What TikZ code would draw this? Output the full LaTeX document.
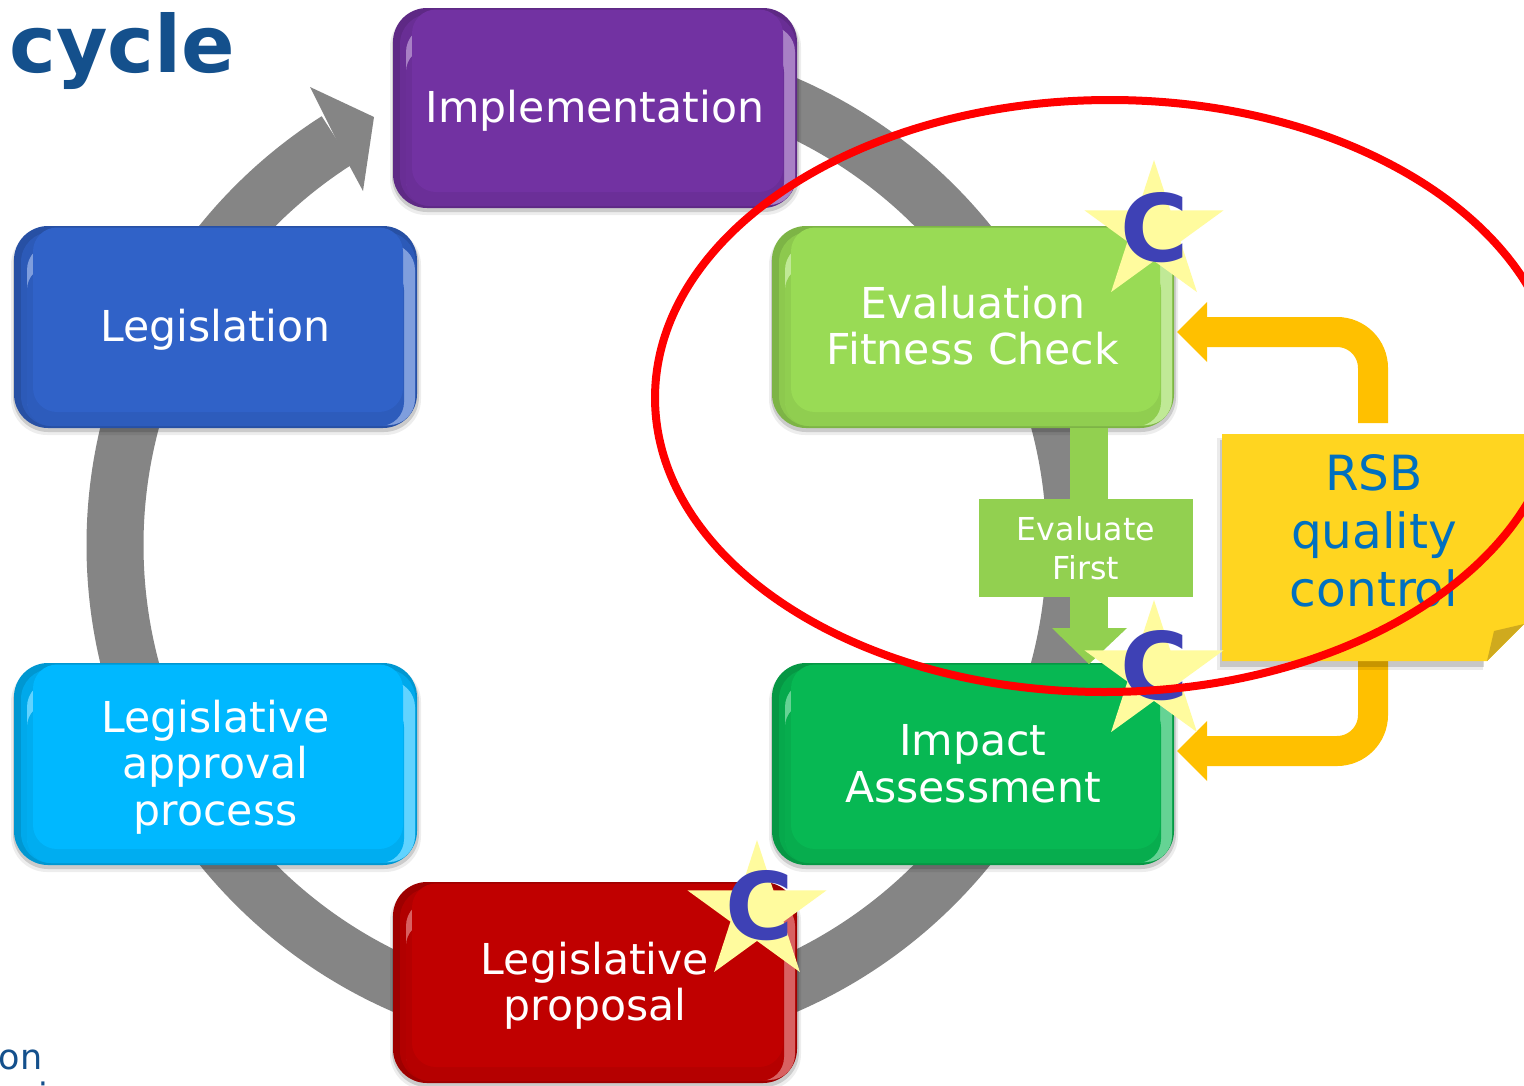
\documentclass[tikz,border=0pt]{standalone}
\usepackage{fontspec}
\setmainfont{DejaVu Sans}
\usetikzlibrary{shapes.geometric,calc}
\definecolor{ringgray}{HTML}{858585}
\definecolor{amber}{HTML}{FFC000}
\definecolor{leaf}{HTML}{92D050}
\definecolor{note}{HTML}{FFD520}
\definecolor{notefold}{HTML}{CFAA1E}
\definecolor{notetext}{HTML}{0070C0}
\definecolor{titleblue}{HTML}{14508C}
\definecolor{cblue}{HTML}{3E41B5}
\definecolor{starfill}{HTML}{FFFB9E}
\definecolor{cimpl}{HTML}{7232A2}
\definecolor{clegis}{HTML}{3062C8}
\definecolor{cappr}{HTML}{00B8FF}
\definecolor{cprop}{HTML}{C00000}
\definecolor{cimpact}{HTML}{07B853}
\definecolor{ceval}{HTML}{99DB55}
\tikzset{
  boxlabel/.style={text=white,align=center,font=\fontsize{42.6}{46.5}\selectfont},
  ringline/.style={ringgray,line width=57pt},
  amberline/.style={amber,line width=30pt,rounded corners=36pt},
  starmark/.style={star,star points=5,star point ratio=2.618,fill=starfill,minimum size=146pt,inner sep=0pt},
  cmark/.style={text=cblue,font=\bfseries\fontsize{93}{93}\selectfont,inner sep=0pt},
  notelabel/.style={text=notetext,align=center,font=\fontsize{48.5}{58}\selectfont},
  evallabel/.style={text=white,align=center,font=\fontsize{31.6}{39}\selectfont},
}
\newcommand{\bevelbox}[8]{%
  \fill[black,opacity=.07,rounded corners=36pt] (#2-3,#3+3) rectangle (#4+4,#5+7);
  \fill[black,opacity=.14,rounded corners=35pt] (#2-1,#3+3) rectangle (#4+2,#5+4);
  \fill[#6!82!black,rounded corners=34pt] (#2,#3) rectangle (#4,#5);
  \fill[#6!92!black,rounded corners=30pt] (#2+7,#3+6) rectangle (#4-1.5,#5-2);
  \fill[#6!62!white,rounded corners=26pt] (#2+13,#3+18) rectangle (#4-2,#5-3);
  \fill[#6!94!black,rounded corners=24pt] (#2+13,#3+40) rectangle (#4-13,#5-2);
  \fill[#6,rounded corners=24pt] (#2+19,#3+1.5) rectangle (#4-14,#5-16);
  \node[boxlabel] (#1) at ({(#2+#4)/2},{(#3+#5)/2+#8}) {#7};
}
\newcommand{\cstar}[5]{%
  \node[starmark] (#1) at (#2,#3) {};
  \node[cmark] (#1c) at (#4,#5) {C};
}
\begin{document}
\begin{tikzpicture}[x=1pt,y=-1pt]
\useasboundingbox (0,0) rectangle (1524,1085);
\clip (0,0) rectangle (1524,1085);
\fill[white] (0,0) rectangle (1524,1085);
\coordinate (ringc) at (595,545);
% ring with arrow head
\draw[ringline] ($(ringc)+(90:480pt)$) arc[start angle=90,end angle=-237.5,radius=480pt];
\fill[ringgray] (374,117) -- (310,87) -- (323,113) -- (349,165) -- (363,191) -- cycle;
% title and cut off text
\node[anchor=base west,text=titleblue,font=\bfseries\fontsize{79}{79}\selectfont,inner sep=0pt] (title) at (9,72) {cycle};
\node[anchor=base west,text=titleblue,font=\fontsize{35}{35}\selectfont,inner sep=0pt] (cutone) at (-11,1069) {ion};
\node[anchor=base west,text=titleblue,font=\fontsize{35}{35}\selectfont,inner sep=0pt] (cuttwo) at (38,1108) {i};
% boxes
\bevelbox{impl}{393}{8}{797}{208}{cimpl}{Implementation}{3}
\bevelbox{legis}{14}{226}{417}{428}{clegis}{Legislation}{3}
\bevelbox{appr}{14}{663}{417}{865}{cappr}{Legislative\\approval\\process}{3}
\bevelbox{prop}{393}{882}{797}{1083}{cprop}{Legislative\\proposal}{3}
\bevelbox{evalb}{772}{226}{1174}{428}{ceval}{Evaluation\\Fitness Check}{-1.5}
\bevelbox{impact}{772}{663}{1174}{865}{cimpact}{Impact\\Assessment}{0}
% green arrow
\fill[leaf] (1070,428) rectangle (1108,628);
\fill[leaf] (1052,628) -- (1127,628) -- (1089,664) -- cycle;
\node[fill=leaf,minimum width=214pt,minimum height=98pt,inner sep=0pt,evallabel] (evalfirst) at (1086,548) {Evaluate\\First};
% amber arrows
\coordinate (atop) at (1373,423);
\coordinate (abot) at (1373,661);
\draw[amberline] (atop) -- (1373,332) -- (1205,332);
\fill[amber] (1177,332) -- (1207,302) -- (1207,362) -- cycle;
\draw[amberline] (abot) -- (1373,751) -- (1205,751);
\fill[amber] (1177,751) -- (1207,721) -- (1207,781) -- cycle;
% note
\fill[black,opacity=.08] (1217,438) rectangle (1230,670);
\fill[black,opacity=.08] (1230,661) rectangle (1483,670);
\fill[black,opacity=.15] (1220,440) rectangle (1226,667);
\fill[black,opacity=.15] (1226,661) rectangle (1484,667);
\fill[note] (1222,434) -- (1524,434) -- (1524,624) -- (1487,661) -- (1222,661) -- cycle;
\fill[notefold] (1487,661) -- (1494,631) -- (1524,624) -- cycle;
\node[notelabel] (notetxt) at (1374,531) {RSB\\quality\\control};
% stars
\cstar{stara}{1154}{233}{1155}{228}
\cstar{starb}{1154}{673}{1155}{666}
\cstar{starc}{757}{913}{760}{906}
% red ellipse
\draw[red,line width=8pt,rotate around={0.4:(1107,396)}] (1107,396) ellipse [x radius=452pt,y radius=296pt];
\end{tikzpicture}
\end{document}
